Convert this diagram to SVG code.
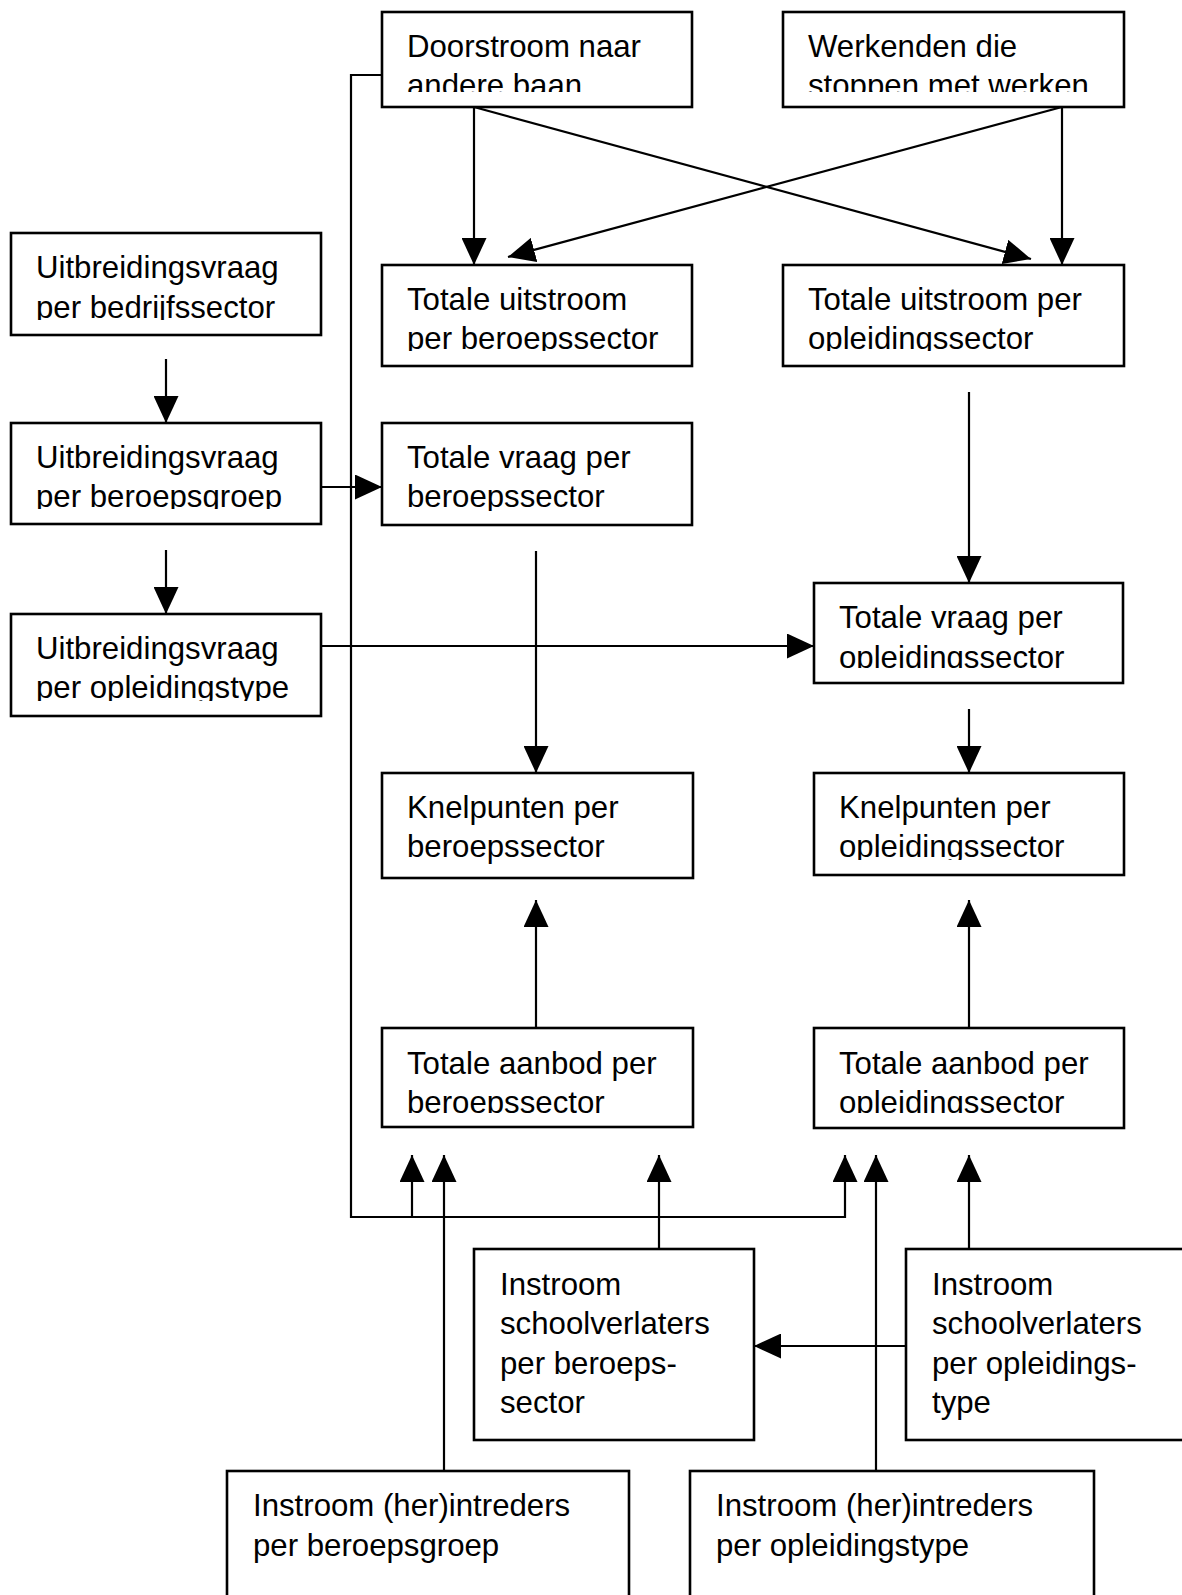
<svg xmlns="http://www.w3.org/2000/svg" width="1182" height="1595" viewBox="0 0 1182 1595">
<style>
.box{fill:#fff;stroke:#000;stroke-width:2.6}
.t{font-family:"Liberation Sans",Arial,sans-serif;font-size:31.2px;fill:#000}
.c{fill:none;stroke:#000;stroke-width:2}
.a{fill:none;stroke:#000;stroke-width:2.2;marker-end:url(#ah)}
</style>
<defs>
<marker id="ah" viewBox="0 0 27 25" refX="27" refY="12.5" markerWidth="27" markerHeight="25" markerUnits="userSpaceOnUse" orient="auto">
<path d="M0,0 L27,12.5 L0,25 z" fill="#000"/>
</marker>
<clipPath id="c1"><rect x="382" y="12" width="310" height="80"/></clipPath>
<clipPath id="c2"><rect x="783" y="12" width="341" height="80"/></clipPath>
<clipPath id="c3"><rect x="382" y="265" width="310" height="86"/></clipPath>
<clipPath id="c4"><rect x="783" y="265" width="341" height="86"/></clipPath>
<clipPath id="c5"><rect x="11" y="233" width="310" height="87"/></clipPath>
<clipPath id="c6"><rect x="11" y="423" width="310" height="86"/></clipPath>
<clipPath id="c7"><rect x="11" y="614" width="310" height="87"/></clipPath>
<clipPath id="c8"><rect x="382" y="423" width="310" height="88"/></clipPath>
<clipPath id="c9"><rect x="814" y="583" width="309" height="85"/></clipPath>
<clipPath id="c10"><rect x="382" y="773" width="311" height="91"/></clipPath>
<clipPath id="c11"><rect x="814" y="773" width="310" height="87"/></clipPath>
<clipPath id="c12"><rect x="382" y="1028" width="311" height="85"/></clipPath>
<clipPath id="c13"><rect x="814" y="1028" width="310" height="85"/></clipPath>
</defs>

<g id="connectors">
<path class="a" d="M474,107 V265"/>
<path class="a" d="M474,107 L1031,259"/>
<path class="a" d="M1062,107 V265"/>
<path class="a" d="M1062,107 L508,257"/>
<path class="a" d="M382,75 H351 V1217 H845 V1155"/>
<path class="a" d="M412,1217 V1155"/>
<path class="a" d="M166,359 V423"/>
<path class="a" d="M166,550 V614"/>
<path class="a" d="M321,487 H382"/>
<path class="a" d="M321,646 H814"/>
<path class="a" d="M536,551 V773"/>
<path class="a" d="M969,392 V583"/>
<path class="a" d="M969,709 V773"/>
<path class="a" d="M536,1028 V900"/>
<path class="a" d="M969,1028 V900"/>
<path class="a" d="M659,1249 V1155"/>
<path class="a" d="M969,1249 V1155"/>
<path class="a" d="M906,1346 H754"/>
<path class="a" d="M444,1471 V1155"/>
<path class="a" d="M876,1471 V1155"/>
</g>

<g id="doorstroom">
<rect class="box" x="382" y="12" width="310" height="95"/>
<text class="t" clip-path="url(#c1)"><tspan x="407" y="56.5">Doorstroom naar</tspan><tspan x="407" y="96">andere baan</tspan></text>
</g>
<g id="werkenden">
<rect class="box" x="783" y="12" width="341" height="95"/>
<text class="t" clip-path="url(#c2)"><tspan x="808" y="56.5">Werkenden die</tspan><tspan x="808" y="96">stoppen met werken</tspan></text>
</g>
<g id="uitstroom-beroep">
<rect class="box" x="382" y="265" width="310" height="101"/>
<text class="t" clip-path="url(#c3)"><tspan x="407" y="309.5">Totale uitstroom</tspan><tspan x="407" y="349">per beroepssector</tspan></text>
</g>
<g id="uitstroom-opleiding">
<rect class="box" x="783" y="265" width="341" height="101"/>
<text class="t" clip-path="url(#c4)"><tspan x="808" y="309.5">Totale uitstroom per</tspan><tspan x="808" y="349">opleidingssector</tspan></text>
</g>
<g id="uitbreiding-bedrijf">
<rect class="box" x="11" y="233" width="310" height="102"/>
<text class="t" clip-path="url(#c5)"><tspan x="36" y="278">Uitbreidingsvraag</tspan><tspan x="36" y="317.5">per bedrijfssector</tspan></text>
</g>
<g id="uitbreiding-beroepsgroep">
<rect class="box" x="11" y="423" width="310" height="101"/>
<text class="t" clip-path="url(#c6)"><tspan x="36" y="467.5">Uitbreidingsvraag</tspan><tspan x="36" y="507">per beroepsgroep</tspan></text>
</g>
<g id="uitbreiding-opleidingstype">
<rect class="box" x="11" y="614" width="310" height="102"/>
<text class="t" clip-path="url(#c7)"><tspan x="36" y="658.5">Uitbreidingsvraag</tspan><tspan x="36" y="698">per opleidingstype</tspan></text>
</g>
<g id="vraag-beroep">
<rect class="box" x="382" y="423" width="310" height="102"/>
<text class="t" clip-path="url(#c8)"><tspan x="407" y="467.5">Totale vraag per</tspan><tspan x="407" y="507">beroepssector</tspan></text>
</g>
<g id="vraag-opleiding">
<rect class="box" x="814" y="583" width="309" height="100"/>
<text class="t" clip-path="url(#c9)"><tspan x="839" y="628">Totale vraag per</tspan><tspan x="839" y="667.5">opleidingssector</tspan></text>
</g>
<g id="knelpunten-beroep">
<rect class="box" x="382" y="773" width="311" height="105"/>
<text class="t" clip-path="url(#c10)"><tspan x="407" y="817.5">Knelpunten per</tspan><tspan x="407" y="857">beroepssector</tspan></text>
</g>
<g id="knelpunten-opleiding">
<rect class="box" x="814" y="773" width="310" height="102"/>
<text class="t" clip-path="url(#c11)"><tspan x="839" y="817.5">Knelpunten per</tspan><tspan x="839" y="857">opleidingssector</tspan></text>
</g>
<g id="aanbod-beroep">
<rect class="box" x="382" y="1028" width="311" height="99"/>
<text class="t" clip-path="url(#c12)"><tspan x="407" y="1073.5">Totale aanbod per</tspan><tspan x="407" y="1113">beroepssector</tspan></text>
</g>
<g id="aanbod-opleiding">
<rect class="box" x="814" y="1028" width="310" height="100"/>
<text class="t" clip-path="url(#c13)"><tspan x="839" y="1073.5">Totale aanbod per</tspan><tspan x="839" y="1113">opleidingssector</tspan></text>
</g>
<g id="schoolverlaters-beroep">
<rect class="box" x="474" y="1249" width="280" height="191"/>
<text class="t"><tspan x="500" y="1294.5">Instroom</tspan><tspan x="500" y="1334">schoolverlaters</tspan><tspan x="500" y="1373.5">per beroeps-</tspan><tspan x="500" y="1413">sector</tspan></text>
</g>
<g id="schoolverlaters-opleiding">
<rect class="box" x="906" y="1249" width="290" height="191"/>
<text class="t"><tspan x="932" y="1294.5">Instroom</tspan><tspan x="932" y="1334">schoolverlaters</tspan><tspan x="932" y="1373.5">per opleidings-</tspan><tspan x="932" y="1413">type</tspan></text>
</g>
<g id="herintreders-beroep">
<rect class="box" x="227" y="1471" width="402" height="140"/>
<text class="t"><tspan x="253" y="1516">Instroom (her)intreders</tspan><tspan x="253" y="1555.5">per beroepsgroep</tspan></text>
</g>
<g id="herintreders-opleiding">
<rect class="box" x="690" y="1471" width="404" height="140"/>
<text class="t"><tspan x="716" y="1516">Instroom (her)intreders</tspan><tspan x="716" y="1555.5">per opleidingstype</tspan></text>
</g>
</svg>
